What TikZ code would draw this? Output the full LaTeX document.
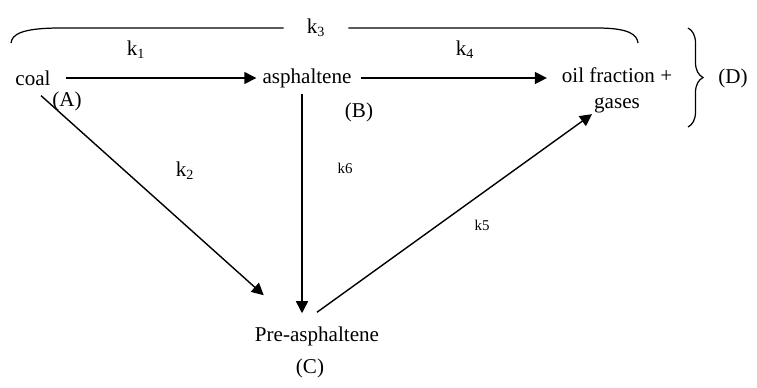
\documentclass[tikz,border=0pt]{standalone}
\usepackage{fontspec}
\setmainfont{Liberation Serif}
\usetikzlibrary{positioning,arrows.meta,calc,decorations.pathreplacing}

\begin{document}
\begin{tikzpicture}[x=0.02cm, y=-0.02cm,
  species/.style={font=\fontsize{12}{14.5}\selectfont, align=center},
  rate/.style={font=\fontsize{12}{14}\selectfont},
  smallrate/.style={font=\fontsize{8.5}{10}\selectfont},
  arr/.style={-{Triangle[length=0.24cm, width=0.24cm]}, line width=0.8pt}]
\useasboundingbox (0,0) rectangle (757,387);
\node[species] (coal) at (33,78) {coal};
\node[species] (asph) at (307,78) {asphaltene};
\node[species] (oil) at (617,90.5) {oil fraction +\\gases};
\node[species] (pre) at (317,336) {Pre-asphaltene};
\node[species] (lA) at (67,101) {(A)};
\node[species] (lB) at (359,112) {(B)};
\node[species] (lC) at (310,368) {(C)};
\node[species] (lD) at (733,78) {(D)};
\node[rate] (k1) at (136,50) {k\textsubscript{1}};
\node[rate] (k2) at (185,171) {k\textsubscript{2}};
\node[rate, inner xsep=13pt] (k3) at (316,28) {k\textsubscript{3}};
\node[rate] (k4) at (465,50) {k\textsubscript{4}};
\node[smallrate] (k5) at (482,225) {k5};
\node[smallrate] (k6) at (345,168) {k6};
\draw[arr, shorten <=5pt] (coal.east) -- (asph.west);
\draw[arr, shorten <=2pt, shorten >=5pt] (asph.east) -- (oil.west |- asph.east);
\draw[arr] ($(coal.south)+(8,4)$) -- ($(pre.north west)+(15,-25)$);
\draw[arr] ($(asph.south)+(-5,0)$) -- ($(pre.north)+(-15,-7)$);
\draw[arr] ($(pre.north)+(0,-8)$) -- ($(oil.south)+(-25,-5)$);
% k3 bracket over the top
\draw[line width=0.7pt] (k3.west) -- (60,28) .. controls (20,28) and (12,35) .. (11,43);
\draw[line width=0.7pt] (k3.east) -- (597,28) .. controls (630,28) and (637,35) .. (638,43);
\draw[line width=0.7pt, decorate, decoration={brace, amplitude=0.3cm}] (688,28) -- (688,127);
\end{tikzpicture}
\end{document}
